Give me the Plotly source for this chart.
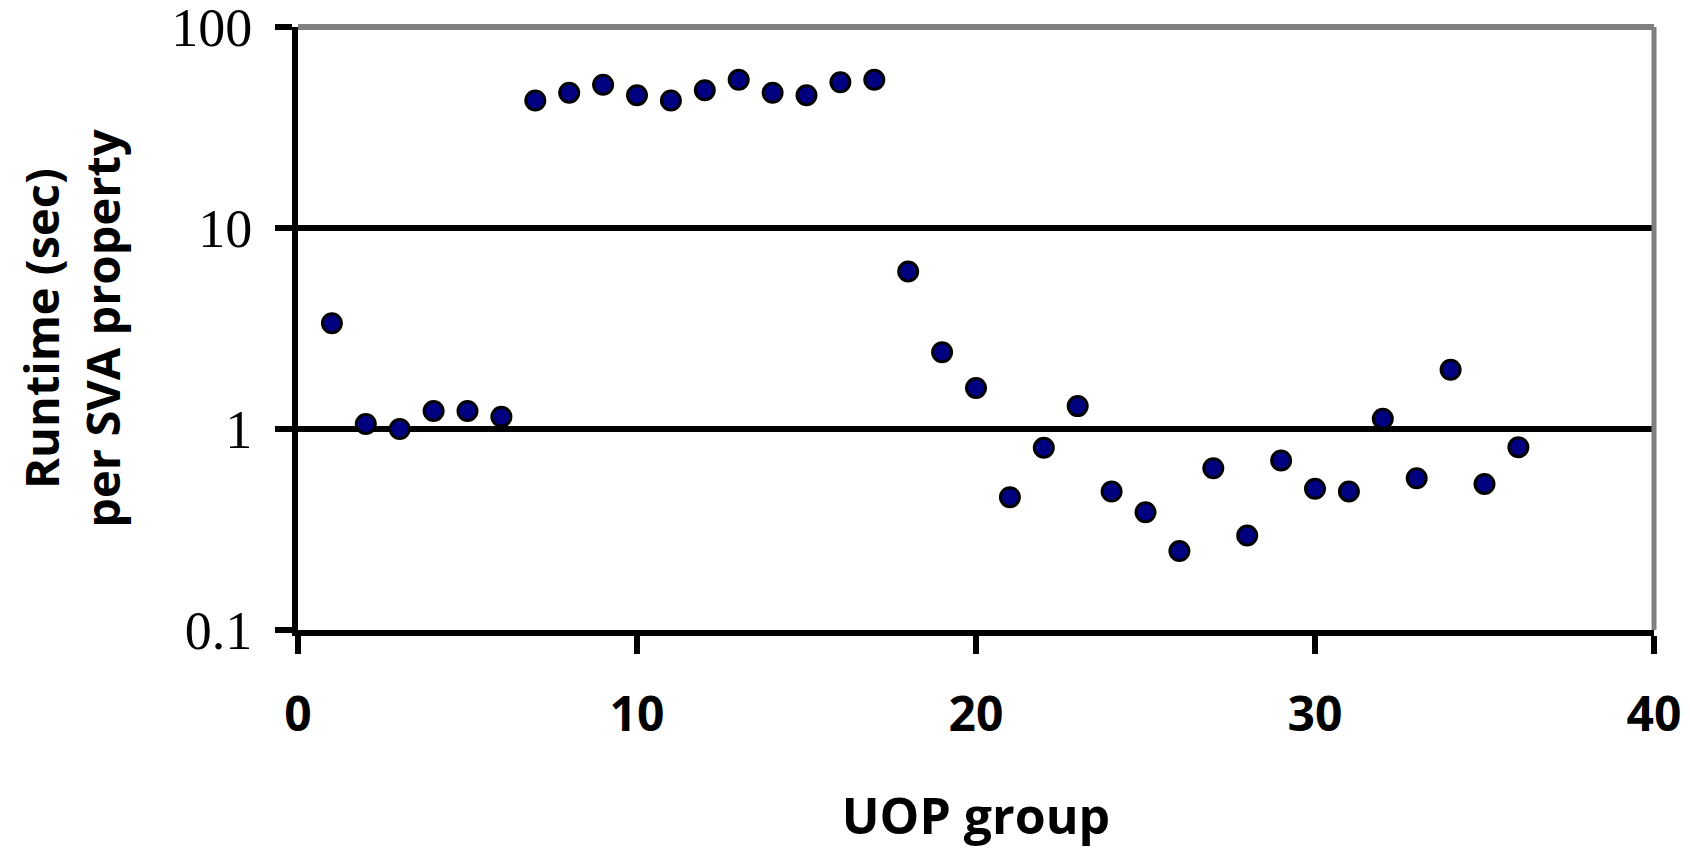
import plotly.graph_objects as go

uop_group = list(range(1, 37))
runtime_sec = [3.36, 1.06, 1.0, 1.23, 1.23, 1.15,
               43.1, 47.1, 51.6, 45.8, 43.1, 48.5, 54.6, 47.1, 45.8, 53.1, 54.6,
               6.08, 2.41, 1.60, 0.458, 0.806, 1.30, 0.489, 0.385, 0.247, 0.638,
               0.295, 0.697, 0.504, 0.489, 1.124, 0.569, 1.97, 0.533, 0.812]

y_tickvals = [0.1, 1, 10, 100]
y_ticktext = ["0.1", "1", "10", "100"]
x_tickvals = [0, 10, 20, 30, 40]

fig = go.Figure()
fig.add_trace(go.Scatter(
    x=uop_group, y=runtime_sec, mode="markers",
    marker=dict(size=19, color="#000080", line=dict(color="black", width=3)),
    showlegend=False, cliponaxis=False,
))

fig.update_layout(
    width=1682, height=841,
    margin=dict(l=290, r=36, t=19, b=219, autoexpand=False),
    plot_bgcolor="white", paper_bgcolor="white",
    xaxis=dict(
        range=[0, 40], tickvals=x_tickvals, ticks="outside", ticklen=18, tickwidth=6,
        tickcolor="black", showline=True, linecolor="black", linewidth=6,
        showgrid=False, zeroline=False,
        tickfont=dict(family="Open Sans", size=48, color="black", weight=700),
        ticklabelstandoff=19, ticklabeloverflow="allow",
        title=dict(text="UOP group", standoff=64,
                   font=dict(family="Open Sans", size=50, color="black", weight=700)),
    ),
    yaxis=dict(
        type="log", range=[-1, 2.0001], tickvals=y_tickvals, ticktext=y_ticktext,
        ticks="outside", ticklen=17, tickwidth=6, tickcolor="black",
        showline=True, linecolor="black", linewidth=6,
        showgrid=True, gridcolor="black", gridwidth=6, zeroline=False,
        tickfont=dict(family="Liberation Serif", size=54, color="black"),
        ticklabelstandoff=12, ticklabeloverflow="allow",
        title=dict(text="Runtime (sec)<br>per SVA property", standoff=38,
                   font=dict(family="Open Sans", size=47, color="black", weight=700)),
    ),
)

# gray top and right plot border
fig.add_shape(type="line", xref="x domain", yref="y domain", x0=0, x1=1, y0=1, y1=1,
              line=dict(color="#808080", width=6), layer="above")
fig.add_shape(type="line", xref="x domain", yref="y domain", x0=1, x1=1, y0=0, y1=1,
              line=dict(color="#808080", width=5), layer="above")

fig.write_html("out.html")
